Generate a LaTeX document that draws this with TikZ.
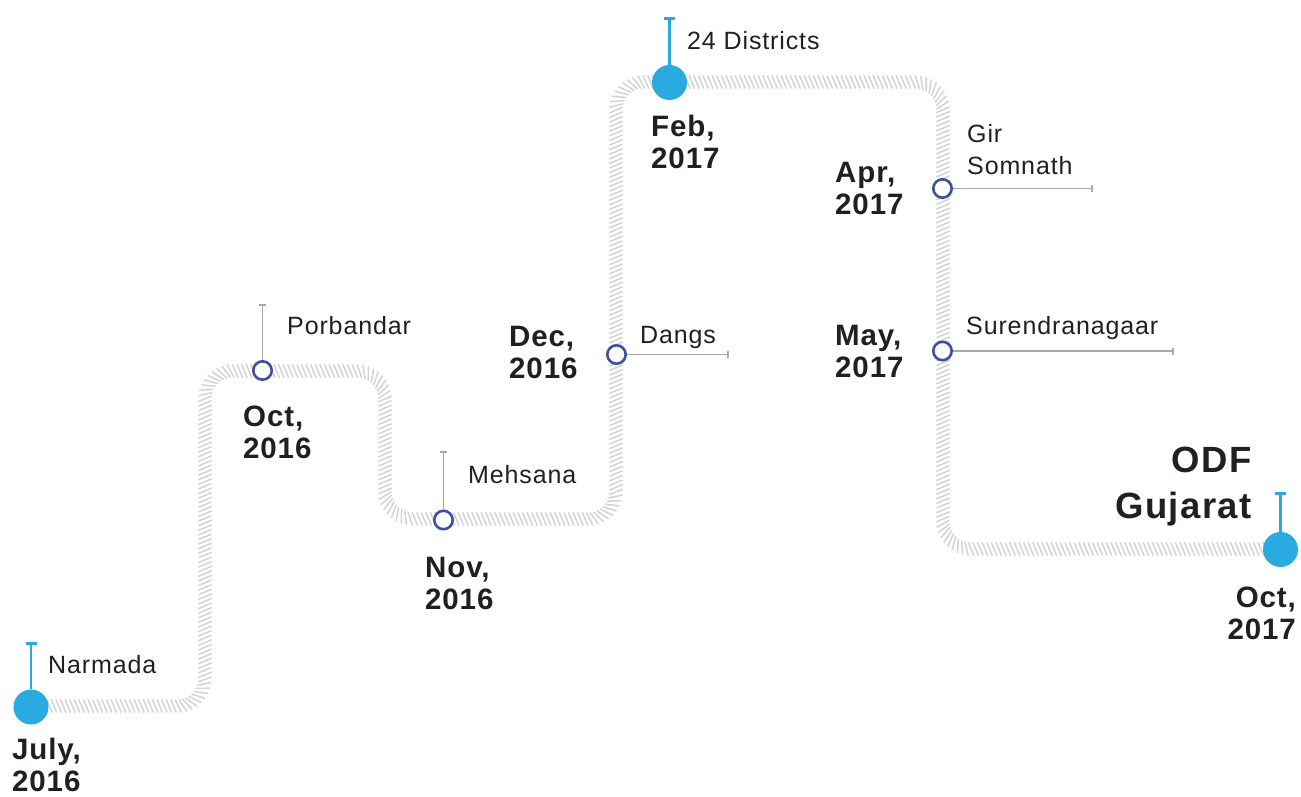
\documentclass[tikz,border=0pt]{standalone}
\usepackage{fontspec}
\setmainfont{Liberation Sans}
\newfontfamily\labfont[LetterSpace=3.5]{Liberation Sans}
\newfontfamily\datfont[LetterSpace=3]{Liberation Sans}
\newfontfamily\odffont[LetterSpace=4]{Liberation Sans}
\usetikzlibrary{decorations.markings,arrows.meta}
\definecolor{dotblue}{HTML}{29ABE2}
\definecolor{ringblue}{HTML}{3D4FA1}
\definecolor{tickgray}{HTML}{A7A9AC}
\definecolor{bandgray}{HTML}{D1D3D4}
\definecolor{ink}{HTML}{231F20}
\tikzset{
  bigdot/.style={circle,fill=dotblue,minimum size=35pt,inner sep=0pt},
  ring/.style={circle,draw=ringblue,line width=2.6pt,fill=white,minimum size=18.4pt,inner sep=0pt},
  bluetick/.style={draw=dotblue,line width=2.6pt,-{Bar[width=11pt]}},
  graytick/.style={draw=tickgray,line width=1.6pt,-{Bar[width=7pt]}},
  lab/.style={font=\labfont\fontsize{25}{32}\selectfont,text=ink,inner sep=0pt,anchor=base west,align=left},
  dat/.style={font=\datfont\fontsize{29.5}{32}\selectfont\bfseries,text=ink,inner sep=0pt,anchor=base west,align=left},
  datr/.style={dat,anchor=base east,align=right},
  band/.style={decorate,decoration={markings,
     mark=between positions 0 and 1 step 4.6pt with
     {\draw[bandgray,line width=1.5pt] (-2.8pt,6.6pt) -- (2.8pt,-6.6pt);}}},
}
\begin{document}
\begin{tikzpicture}[x=1pt,y=-1pt]
\useasboundingbox (0,0) rectangle (1301,796);

% hatched band
\path[band,rounded corners=28pt]
  (31,706) -- (205,706) -- (205,371) -- (385,371) -- (385,519)
  -- (616,519) -- (616,82) -- (943,82) -- (943,549) -- (1280,549);

% milestone markers
\node[bigdot] (jul) at (31,707) {};
\node[bigdot] (feb) at (669.5,82.5) {};
\node[bigdot] (odf) at (1280.5,549.5) {};
\node[ring] (oct) at (262.5,370.5) {};
\node[ring] (nov) at (443.5,520) {};
\node[ring] (dec) at (616.5,354.5) {};
\node[ring] (apr) at (942.5,188.5) {};
\node[ring] (may) at (942.5,351) {};

% tick ends
\coordinate (julT) at (31,642);
\coordinate (febT) at (669.5,17);
\coordinate (odfT) at (1280.5,492);
\coordinate (octT) at (262.5,304);
\coordinate (novT) at (443.5,451);
\coordinate (decT) at (729,354.5);
\coordinate (aprT) at (1093,188.5);
\coordinate (mayT) at (1174,351);

\draw[bluetick] (jul) -- (julT);
\draw[bluetick] (feb) -- (febT);
\draw[bluetick] (odf) -- (odfT);
\draw[graytick] (oct) -- (octT);
\draw[graytick] (nov) -- (novT);
\draw[graytick] (dec) -- (decT);
\draw[graytick] (apr) -- (aprT);
\draw[graytick] (may) -- (mayT);

% place names
\node[lab] (lnar) at (48,673) {Narmada};
\node[lab] (lpor) at (287,334) {Porbandar};
\node[lab] (lmeh) at (468,483) {Mehsana};
\node[lab] (ldan) at (640,343) {Dangs};
\node[lab] (l24) at (687,49) {24 Districts};
\node[lab] (lgir) at (967,174) {Gir\\Somnath};
\node[lab] (lsur) at (966,334) {Surendranagaar};

% dates (anchor = baseline of last line)
\node[dat] (djul) at (12,791) {July,\\2016};
\node[dat] (doct) at (243,458) {Oct,\\2016};
\node[dat] (dnov) at (425,609) {Nov,\\2016};
\node[dat] (ddec) at (509,378) {Dec,\\2016};
\node[dat] (dfeb) at (651,168) {Feb,\\2017};
\node[dat] (dapr) at (835,214) {Apr,\\2017};
\node[dat] (dmay) at (835,377) {May,\\2017};
\node[datr] (doct2) at (1296,639) {Oct,\\2017};
\node[datr,font=\odffont\fontsize{36.5}{46}\selectfont\bfseries] (dodf) at (1252,518) {ODF\\Gujarat};
\end{tikzpicture}
\end{document}
